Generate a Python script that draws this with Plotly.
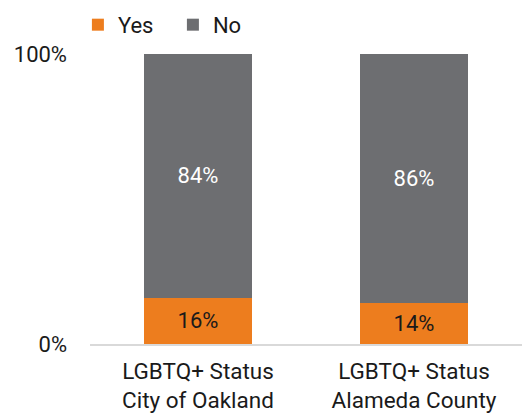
import plotly.graph_objects as go

categories = ["LGBTQ+ Status<br>City of Oakland", "LGBTQ+ Status<br>Alameda County"]
yes_values = [0.16, 0.14]
no_values = [0.84, 0.86]
yes_labels = ["16%", "14%"]
no_labels = ["84%", "86%"]

ORANGE = "#ED7D1E"
GRAY = "#6D6E71"
FONT = "Roboto"
SIZE = 22

fig = go.Figure()
fig.add_trace(go.Bar(
    name="Yes", x=categories, y=yes_values, marker_color=ORANGE,
    marker_line_width=0, text=yes_labels, texttemplate="%{text}",
    textposition="inside", insidetextanchor="middle",
    insidetextfont=dict(color="#1a1a1a", size=SIZE, family=FONT),
))
fig.add_trace(go.Bar(
    name="No", x=categories, y=no_values, marker_color=GRAY,
    marker_line_width=0, text=no_labels, texttemplate="%{text}",
    textposition="inside", insidetextanchor="middle",
    insidetextfont=dict(color="white", size=SIZE, family=FONT),
))

fig.update_layout(
    barmode="stack",
    bargap=0.497,
    width=522, height=413,
    margin=dict(l=90, r=0, t=54, b=69),
    paper_bgcolor="white", plot_bgcolor="white",
    font=dict(family=FONT, size=SIZE, color="#1a1a1a"),
    uniformtext=dict(mode=False),
    legend=dict(
        orientation="h", x=-0.028, xanchor="left", y=1.028, yanchor="bottom",
        font=dict(size=SIZE, family=FONT), itemwidth=30,
        entrywidth=50, entrywidthmode="pixels",
        traceorder="normal", bgcolor="rgba(0,0,0,0)",
    ),
)
fig.update_yaxes(
    range=[0, 1], tickvals=[0, 1], tickformat=".0%",
    showgrid=True, gridcolor="#d9d9d9", gridwidth=1.5,
    zeroline=False, showline=False, ticks="", ticklabelstandoff=22,
    tickfont=dict(size=SIZE, family=FONT), automargin=False,
)
fig.update_xaxes(
    showline=True, linecolor="#d9d9d9", linewidth=1.5, ticks="",
    showgrid=False, ticklabelstandoff=6, automargin=False,
    tickfont=dict(size=22.5, family=FONT),
)

fig.write_html("out.html")
